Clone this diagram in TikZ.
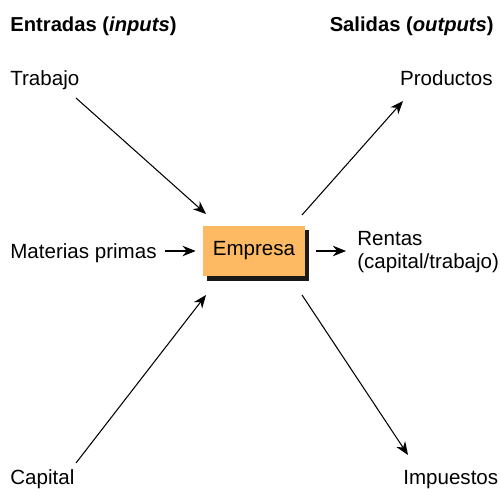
\documentclass[tikz,border=0pt]{standalone}
\usepackage{fontspec}
\setmainfont{Liberation Sans}
\usepackage{tikz}
\usetikzlibrary{arrows.meta}
\usetikzlibrary{calc}

\definecolor{boxorange}{RGB}{253,186,99}

\begin{document}
\begin{tikzpicture}[x=0.02cm, y=-0.02cm,
  txt/.style={inner sep=0pt, font=\fontsize{11.7}{13}\selectfont},
  hdr/.style={txt, font=\fontsize{11.5}{13}\selectfont\bfseries},
  flow/.style={line width=0.6pt, -{Stealth[length=7.5pt, width=6pt]}}]

% frame of the picture
\useasboundingbox (0,0) rectangle (500,489);

% First, the headers
\node[hdr, anchor=base west] (ent) at (10,32) {Entradas (\textit{inputs})};
\node[hdr, anchor=base east] (sal) at (494,32) {Salidas (\textit{outputs})};

% the firm, with its shadow
\fill[black!90] (207,230) rectangle (309,281);
\node[fill=boxorange, minimum width=2.04cm, minimum height=1.02cm, inner sep=0pt,
  font=\fontsize{11.7}{13}\selectfont] (emp) at (254,251) {Empresa};

% inputs
\node[txt, anchor=base west] (trab) at (10,86) {Trabajo};
\node[txt, anchor=base west] (mat) at (10,259) {Materias primas};
\node[txt, anchor=base west] (cap) at (10,484) {Capital};

% outputs
\node[txt, anchor=base east] (prod) at (493,86) {Productos};
\node[txt, anchor=west, align=left] (rent) at (357,252) {Rentas\\(capital/trabajo)};
\node[txt, anchor=base west] (imp) at (403,484) {Impuestos};

% free ends of the arrows
\coordinate (t1) at (76,98);   \coordinate (t2) at (206,214);
\coordinate (c1) at (76,463);  \coordinate (c2) at (206,295);
\coordinate (p1) at (302,215); \coordinate (p2) at (403,101);
\coordinate (i1) at (302,295); \coordinate (i2) at (408,455);
\coordinate (m1) at ($(mat.east)+(8,0)$);
\coordinate (m2) at ($(emp.west)+(-7,0)$);
\coordinate (r1) at ($(emp.east)+(11,0)$);
\coordinate (r2) at ($(rent.west)+(-11,0)$);

% Now the arrows
\draw[flow] (t1) -- (t2);
\draw[flow] (c1) -- (c2);
\draw[flow] (m1 |- m2) -- (m2);
\draw[flow] (p1) -- (p2);
\draw[flow] (r1) -- (r2 |- r1);
\draw[flow] (i1) -- (i2);

\end{tikzpicture}
\end{document}
